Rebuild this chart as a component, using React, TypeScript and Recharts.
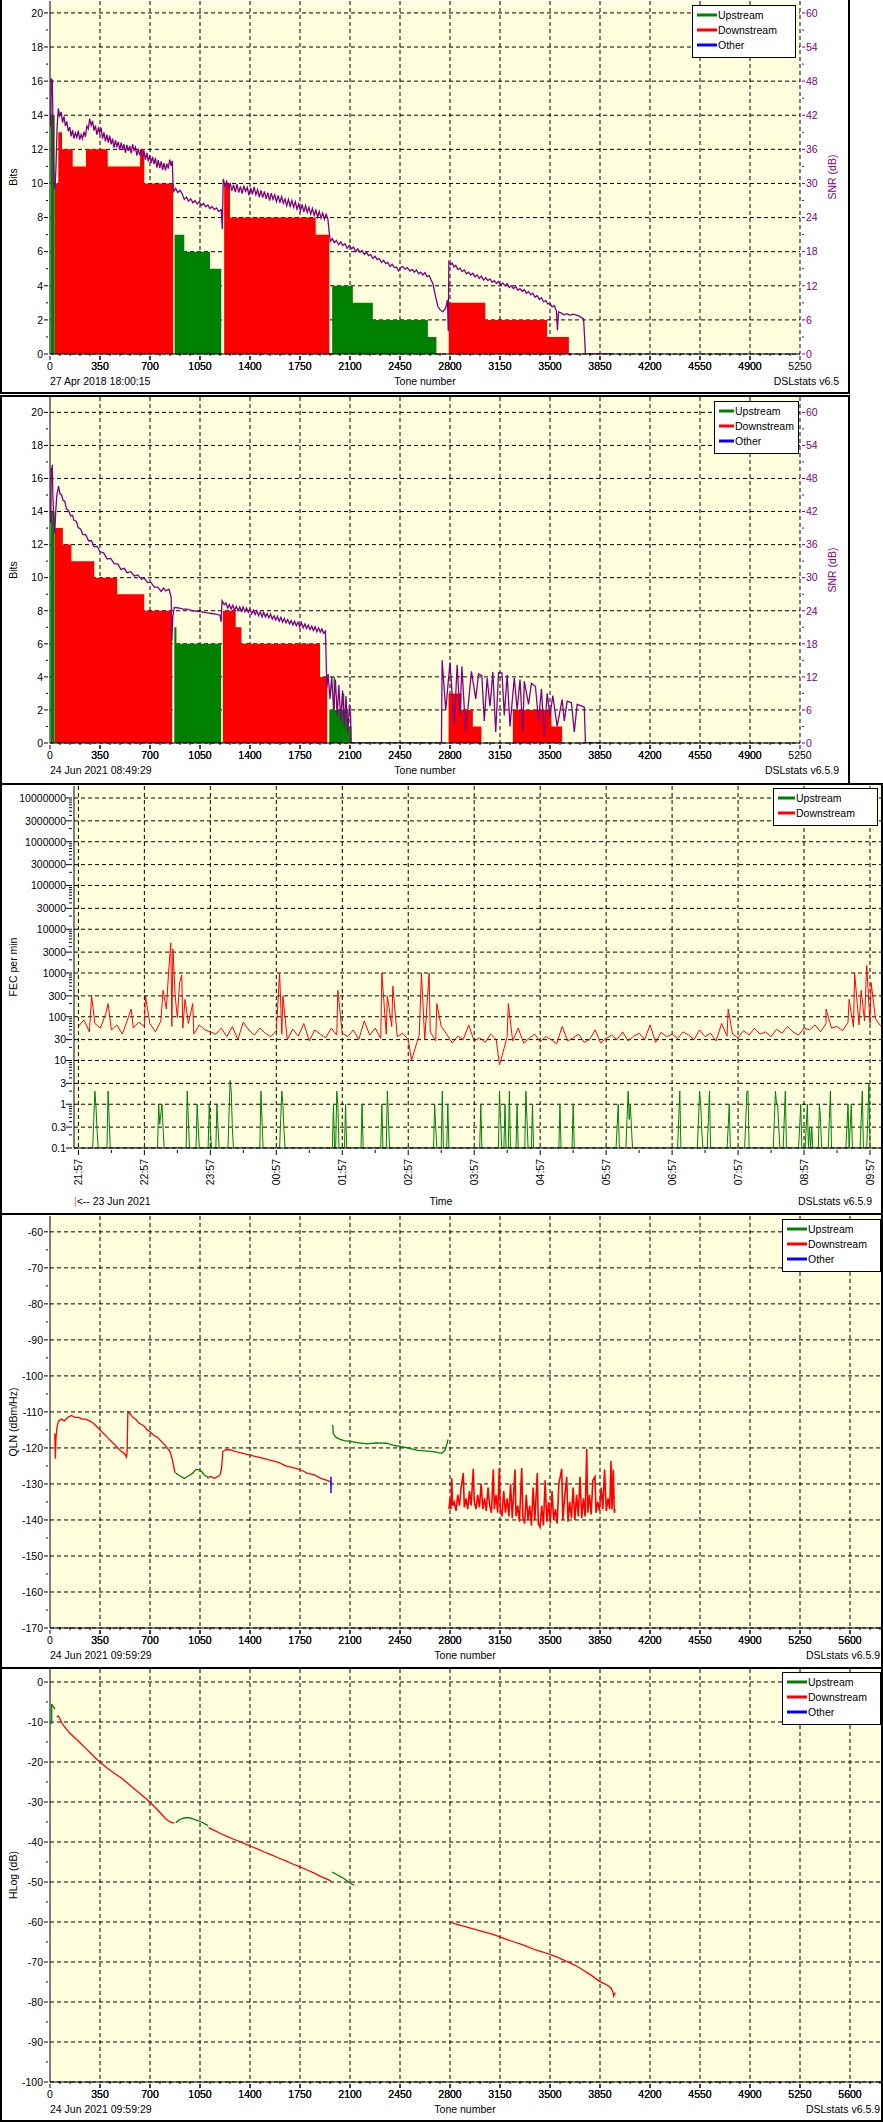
import React from 'react';
import { ComposedChart, Area, Line, XAxis, YAxis, CartesianGrid } from 'recharts';

const FONT = '"Liberation Sans", Arial, sans-serif';
const FS = 10.5;
const GREEN = '#008000';
const RED = '#ff0000';
const BLUE = '#0000ff';
const PURPLE = '#800080';
const PLOT_BG = '#fffedd';

// ---- tick labels ----
const toneLabels1 = [0, 350, 700, 1050, 1400, 1750, 2100, 2450, 2800, 3150, 3500, 3850, 4200, 4550, 4900, 5250];
const toneLabels2 = [0, 350, 700, 1050, 1400, 1750, 2100, 2450, 2800, 3150, 3500, 3850, 4200, 4550, 4900, 5250, 5600];
const bitLabels = [0, 2, 4, 6, 8, 10, 12, 14, 16, 18, 20];
const snrLabels = [0, 6, 12, 18, 24, 30, 36, 42, 48, 54, 60];
const fecLabels = [0.1, 0.3, 1, 3, 10, 30, 100, 300, 1000, 3000, 10000, 30000, 100000, 300000, 1000000, 3000000, 10000000];
const timeMinutes = [0, 60, 120, 180, 240, 300, 360, 420, 480, 540, 600, 660, 720];
const timeLabels = ['21:57', '22:57', '23:57', '00:57', '01:57', '02:57', '03:57', '04:57', '05:57', '06:57', '07:57', '08:57', '09:57'];
const qlnLabels = [-60, -70, -80, -90, -100, -110, -120, -130, -140, -150, -160, -170];
const hlogLabels = [0, -10, -20, -30, -40, -50, -60, -70, -80, -90, -100];

// ---- bit loading (band: [start tone, bits] steps, band end tone) ----
const bits1Green: [number[][], number][] = [
  [[[6, 14]], 33],
  [[[872, 7], [940, 6], [1120, 5]], 1199],
  [[[1975, 4], [2120, 3], [2260, 2], [2645, 1]], 2705],
];
const bits1Red: [number[][], number][] = [
  [[[33, 10], [58, 13], [84, 12], [159, 11], [252, 12], [404, 11], [630, 12], [660, 10]], 862],
  [[[1219, 10], [1260, 8], [1860, 7]], 1955],
  [[[2791, 3], [3047, 2], [3480, 1]], 3632],
];
const bits2Green: [number[][], number][] = [
  [[[6, 14]], 32],
  [[[870, 7], [885, 6]], 1198],
  [[[1955, 2], [1985, 4], [1995, 2], [2050, 3], [2060, 2], [2085, 1]], 2110],
];
const bits2Red: [number[][], number][] = [
  [[[33, 13], [90, 12], [150, 11], [310, 10], [470, 9], [660, 8]], 855],
  [[[1210, 8], [1300, 7], [1340, 6], [1890, 4]], 1940],
  [[[2790, 3], [2880, 2], [2960, 1], [3020, 0], [3240, 2], [3510, 1]], 3585],
];

// ---- SNR per tone (dB) ----
const snr1 = [
  [6, 40], [9, 48.5], [13, 47], [16, 48.3], [19, 44], [22, 36], [28, 30], [35, 29], [42, 33], [50, 40],
  [58, 43.2], [68, 41.9], [78, 42.6], [88, 40.7], [98, 41.8], [108, 40.1], [118, 40.9], [128, 39.2], [138, 39.9], [148, 38.3], [158, 39.4], [168, 37.9], [178, 38.9], [188, 38.1], [198, 39.3], [208, 37.7], [218, 38.6], [228, 37.9], [238, 39.1], [248, 38.2], [258, 40.1], [268, 39.6], [278, 41.4], [288, 40.2], [298, 41], [308, 39.3], [318, 40.2], [328, 38.6], [338, 39.7], [348, 38.9], [358, 39.8], [368, 37.9], [378, 39], [388, 37.4], [398, 38.6], [408, 37.2], [418, 38.4], [428, 36.9], [438, 37.9], [448, 36.3], [458, 37.6], [468, 36.5], [478, 37.3], [488, 35.9], [498, 37.2], [508, 36], [518, 36.9], [528, 35.4], [538, 36.8], [548, 35.7], [558, 36.6], [568, 35.3], [578, 36.9], [588, 35.8], [598, 36.4], [608, 34.9], [618, 36.1], [628, 35], [638, 35.9], [648, 34.6], [658, 35.7], [668, 34.2], [678, 35.4], [688, 33.9], [698, 35], [708, 33.6], [718, 34.7], [728, 33.4], [738, 34.5], [748, 32.8], [758, 34.1], [768, 32.7], [778, 33.9], [788, 32.4], [798, 33.6], [808, 32.3], [818, 33.5], [828, 32.6], [838, 34.2], [848, 33.1], [856, 34], [861, 30], [866, 28.6],
  [880, 29.1], [895, 28.4], [910, 28.8], [925, 28.2], [940, 27.2], [955, 27.6], [970, 26.9], [985, 27.3], [1000, 26.6], [1015, 27], [1030, 26.4], [1045, 26.8], [1060, 26.1], [1075, 26.5], [1090, 25.9], [1105, 26.2], [1120, 25.6], [1135, 25.9], [1150, 25.4], [1165, 25.7], [1180, 25.1], [1199, 25.4], [1206, 22],
  [1213, 30.8], [1225, 29.6], [1237, 30.4], [1249, 29], [1261, 30.1], [1273, 28.7], [1285, 29.8], [1297, 28.5], [1309, 29.9], [1321, 28.4], [1333, 29.5], [1345, 28.2], [1357, 29.6], [1369, 28.6], [1381, 29.3], [1393, 27.9], [1405, 29.2], [1417, 28.1], [1429, 29.4], [1441, 28], [1453, 28.9], [1465, 27.6], [1477, 28.8], [1489, 27.5], [1501, 28.6], [1513, 27.3], [1525, 28.4], [1537, 27], [1549, 28.3], [1561, 27.2], [1573, 28], [1585, 26.8], [1597, 27.9], [1609, 26.6], [1621, 27.7], [1633, 26.5], [1645, 27.3], [1657, 26.1], [1669, 27.2], [1681, 26], [1693, 27], [1705, 25.8], [1717, 26.8], [1729, 25.5], [1741, 26.4], [1753, 25.2], [1765, 26.3], [1777, 25], [1789, 26.1], [1801, 24.9], [1813, 25.8], [1825, 24.6], [1837, 25.6], [1849, 24.4], [1861, 25.3], [1873, 24.1], [1885, 25.1], [1897, 23.9], [1909, 24.8], [1921, 23.7], [1933, 24.6], [1945, 23.8], [1952, 22],
  [1962, 19.8], [1976, 20.3], [1990, 19.6], [2005, 20], [2020, 19.2], [2035, 19.7], [2050, 19.1], [2065, 19.4], [2080, 18.6], [2095, 19.1], [2110, 18.5], [2125, 18.8], [2140, 18], [2155, 18.5], [2170, 17.9], [2185, 18.2], [2200, 17.5], [2215, 17.9], [2230, 17.3], [2245, 17.5], [2260, 16.8], [2275, 17.2], [2290, 16.6], [2305, 16.8], [2320, 16.1], [2335, 16.5], [2350, 15.9], [2365, 16.1], [2380, 15.4], [2395, 15.8], [2410, 15.2], [2425, 15.3], [2440, 14.6], [2455, 15.2], [2470, 15.4], [2485, 14.9], [2500, 15.2], [2520, 14.6], [2535, 14.9], [2550, 14.4], [2565, 14.8], [2580, 14.1], [2595, 14.4], [2610, 13.9], [2625, 14.3], [2640, 13.6], [2655, 13.8], [2668, 13], [2680, 12.4], [2690, 11.2], [2700, 10], [2715, 8.4], [2730, 7.8], [2750, 7.4], [2770, 8.1], [2782, 9.5], [2788, 4],
  [2792, 16.2], [2805, 15.7], [2815, 16], [2828, 15.3], [2840, 15.6], [2855, 14.9], [2870, 15.1], [2885, 14.5], [2900, 14.8], [2915, 14.1], [2930, 14.4], [2945, 13.9], [2960, 14.2], [2975, 13.6], [2990, 13.9], [3005, 13.3], [3020, 13.7], [3035, 13], [3050, 13.4], [3065, 12.9], [3080, 13.2], [3095, 12.6], [3110, 12.9], [3125, 12.4], [3140, 12.8], [3155, 12.1], [3170, 12.5], [3185, 12], [3200, 12.4], [3215, 11.7], [3230, 12], [3245, 11.5], [3260, 11.9], [3275, 11.2], [3290, 11.5], [3305, 11], [3320, 11.3], [3335, 10.7], [3350, 11], [3365, 10.4], [3380, 10.7], [3395, 10], [3410, 10.3], [3425, 9.6], [3440, 9.9], [3455, 9.2], [3470, 9.4], [3485, 8.8], [3500, 8.9], [3515, 8.3], [3530, 8.5], [3545, 7.6], [3552, 4.2], [3560, 7.4], [3580, 7.2], [3600, 6.9], [3620, 7.1], [3640, 6.8], [3660, 7], [3680, 6.9], [3700, 6.7], [3720, 6.4], [3735, 6.2], [3742, 3], [3748, 0], [3940, 0],
];
const snr2 = [
  [6, 40], [9, 50], [13, 49], [16, 50.5], [20, 45], [26, 41], [33, 38], [40, 42], [48, 45], [60, 46.6], [70, 45.2], [80, 45.1], [92, 44], [103, 43.9], [115, 42.5], [130, 42.2], [145, 41.2], [158, 41.3], [168, 40.4], [185, 40.2], [197, 39.1], [215, 38.8], [230, 37.8], [250, 37.8], [270, 36.7], [290, 36.7], [309, 35.6], [330, 35.7], [350, 34.7], [375, 34.5], [400, 33.4], [425, 33.5], [450, 32.5], [475, 32.5], [496, 31.5], [520, 31.7], [540, 30.9], [565, 31.1], [590, 30.3], [615, 30.5], [640, 29.7], [660, 29.9], [683, 29.1], [705, 29.2], [730, 28.3], [755, 28.3], [777, 27.5], [795, 28.1], [810, 27.6], [833, 27.9], [848, 26.5], [853, 18.6], [860, 23],
  [870, 24.6], [900, 24.5], [930, 24.3], [960, 24.3], [1000, 24], [1030, 23.9], [1060, 23.8], [1100, 23.6], [1130, 23.5], [1160, 23.4], [1190, 23.2], [1198, 22],
  [1204, 25.8], [1220, 25.1], [1232, 25.4], [1244, 24.5], [1256, 25.1], [1268, 24.3], [1280, 25], [1292, 24.1], [1304, 24.8], [1316, 24], [1328, 24.7], [1340, 23.9], [1352, 24.7], [1364, 23.8], [1376, 24.5], [1388, 23.7], [1400, 24.3], [1412, 23.4], [1424, 24.1], [1436, 23.3], [1448, 24], [1460, 23.1], [1472, 23.8], [1484, 22.9], [1496, 23.7], [1508, 22.9], [1520, 23.5], [1532, 22.7], [1544, 23.4], [1556, 22.5], [1568, 23.1], [1580, 22.3], [1592, 23], [1604, 22.1], [1616, 22.8], [1628, 21.9], [1640, 22.6], [1652, 21.8], [1664, 22.4], [1676, 21.6], [1688, 22.2], [1700, 21.4], [1712, 22.1], [1724, 21.3], [1736, 21.9], [1748, 21.1], [1760, 21.8], [1772, 20.9], [1784, 21.6], [1796, 20.8], [1808, 21.4], [1820, 20.6], [1832, 21.2], [1844, 20.4], [1856, 21.1], [1868, 20.2], [1880, 20.9], [1892, 20.1], [1904, 20.7], [1916, 19.9], [1928, 20.3],
  [1938, 10], [1947, 12.5], [1960, 8], [1972, 12], [1985, 6], [1998, 11.5], [2010, 5], [2022, 10.5], [2035, 4], [2048, 9.5], [2060, 3], [2072, 8.5], [2085, 2], [2096, 7], [2104, 5], [2108, 0], [2740, 0],
  [2745, 15], [2770, 6], [2800, 14.6], [2830, 3], [2850, 14.2], [2870, 5], [2883, 13.9], [2910, 2], [2950, 13], [2980, 8], [3000, 12.5], [3023, 12.2], [3040, 4], [3060, 11.8], [3080, 6.7], [3100, 12.9], [3120, 2], [3140, 12.8], [3164, 12.7], [3180, 5], [3200, 12.4], [3220, 3], [3250, 11.8], [3270, 6], [3290, 11.5], [3310, 2], [3320, 11.2], [3350, 7], [3370, 10.8], [3398, 10.3], [3420, 4], [3440, 9.8], [3460, 1], [3480, 9], [3500, 5], [3520, 8.6], [3550, 3], [3585, 7.9], [3600, 4], [3620, 7.6], [3650, 7.3], [3670, 2], [3690, 7], [3725, 6.7], [3740, 6.5], [3748, 0], [3860, 0],
];

// ---- FEC per minute (minutes after 21:57) ----
const fecDsEvery5 = [
  60, 85, 45, 70, 55, 120, 50, 65, 40, 90, 55, 75, 60,
  70, 45, 80, 150, 60, 95, 55, 70, 40, 65, 50, 45,
  40, 55, 35, 60, 30, 75, 50, 38, 55, 42, 35, 48,
  40, 30, 52, 36, 70, 28, 50, 40, 33, 55, 38, 42,
  35, 50, 30, 80, 38, 55, 32, 40, 60, 35, 42, 30,
  15, 38, 30, 45, 28, 60, 40, 25, 36, 30, 65, 28,
  33, 26, 40, 30, 12, 35, 28, 55, 25, 32, 40, 27,
  35, 30, 24, 60, 28, 33, 40, 26, 30, 50, 25, 32,
  38, 30, 45, 28, 36, 42, 30, 65, 26, 44, 35, 40,
  32, 45, 38, 30, 50, 35, 42, 28, 70, 36, 40, 33,
  48, 38, 55, 40, 45, 35, 52, 42, 60, 45, 38, 55,
  50, 65, 45, 70, 55, 60, 48, 75, 58, 65, 80, 70,
  90, 60,
];
const fecDsPeaks = [
  [12, 300], [27, 200], [48, 150], [61, 300], [77, 400], [82, 1000], [84, 4900], [86, 3500], [88, 300], [92, 600], [94, 900], [97, 250], [104, 200],
  [183, 1000], [186, 300], [236, 400], [276, 1000], [281, 300], [286, 500], [303, 10], [312, 1000], [319, 1000], [326, 200], [383, 8], [391, 200],
  [591, 150], [680, 150], [701, 250], [706, 1000], [712, 400], [717, 1500], [721, 600],
];
const fecUsEvents = [
  [14, 0.45], [15, 2], [16, 0.87], [17, 0.25], [27, 2], [28, 0.45],
  [73, 1], [74, 0.35], [75, 0.6], [76, 1], [77, 0.3], [99, 2], [100, 0.45], [108, 1], [109, 0.3], [119, 1], [120, 0.3], [126, 1], [127, 0.3],
  [137, 0.6], [138, 3.5], [139, 2], [140, 0.3], [166, 2], [167, 0.45], [184, 0.45], [185, 2], [186, 1], [187, 0.25],
  [232, 1], [235, 2], [236, 1], [243, 1], [258, 1], [276, 1], [281, 2], [282, 0.45], [324, 1], [325, 0.3], [331, 2], [336, 1], [366, 1],
  [383, 2], [384, 0.45], [388, 1], [392, 2], [399, 1], [407, 2], [408, 0.45], [413, 1], [438, 1], [450, 1],
  [490, 0.3], [491, 1], [499, 0.45], [500, 2], [501, 0.45], [502, 1], [503, 0.3], [546, 0.45], [547, 2],
  [564, 0.45], [565, 2], [566, 1], [567, 0.25], [573, 0.45], [574, 2], [591, 0.3], [592, 1], [607, 0.45], [608, 2], [609, 2],
  [633, 0.45], [634, 2], [635, 1], [636, 1], [637, 0.3], [642, 0.45], [643, 2], [656, 0.3], [657, 1], [662, 0.3], [663, 1],
  [665, 0.3], [667, 0.3], [674, 1], [675, 0.45], [683, 0.45], [684, 2], [699, 0.3], [700, 1], [702, 0.3], [703, 1],
  [712, 0.45], [713, 2], [718, 0.45], [719, 3],
];
const FEC_FLOOR = 0.1; // zero-count minutes sit on the axis floor

// ---- QLN (dBm/Hz) ----
const qlnDsA = [[33, -116], [38, -123], [42, -117], [50, -114], [60, -112.5], [80, -112], [100, -112.5], [125, -111.5], [150, -111], [175, -111.5], [200, -111.5], [225, -112], [250, -112], [275, -112.5], [300, -113], [325, -114], [350, -115], [375, -116], [400, -117], [425, -118], [450, -119], [475, -120], [500, -121], [520, -121.5], [535, -122.5], [540, -121], [545, -110], [560, -110.5], [580, -111.5], [600, -112], [620, -113], [640, -113.5], [660, -114], [680, -115], [700, -115.5], [725, -116.5], [750, -117], [775, -118], [800, -119], [820, -120], [840, -121], [855, -123], [865, -125], [875, -127]];
const qlnUsB = [[880, -127], [900, -127.5], [920, -128], [940, -128.5], [960, -128], [980, -127.5], [1000, -127], [1020, -126], [1040, -126], [1060, -126.5], [1080, -127.5], [1100, -128], [1110, -128.5]];
const qlnDsC = [[1110, -128], [1130, -128], [1150, -128.5], [1170, -128], [1190, -127.5], [1200, -126], [1210, -121], [1230, -120.5], [1260, -120.5], [1300, -121], [1350, -121.5], [1400, -122], [1450, -122.5], [1500, -123], [1550, -123.5], [1600, -124], [1650, -125], [1700, -125.5], [1750, -126], [1800, -127], [1850, -127.5], [1900, -128.5], [1940, -129], [1967, -129.5]];
const qlnUsD = [[1979, -113.6], [1983, -116], [2000, -117], [2030, -117.6], [2060, -118], [2100, -118.2], [2150, -118.5], [2217, -118.9], [2280, -118.6], [2357, -118.7], [2400, -119.2], [2450, -119.6], [2500, -120], [2567, -120.6], [2620, -120.8], [2683, -121], [2742, -121.5], [2765, -120.6], [2778, -119], [2786, -117.6]];
const qlnDsE = [[2793, -137], [2800, -134], [2806, -137], [2812, -128.4], [2818, -136], [2830, -135], [2842, -137.5], [2854, -133], [2866, -136], [2878, -131], [2893, -127], [2900, -136.5], [2912, -134], [2924, -137], [2936, -132], [2948, -136], [2963, -125.8], [2970, -135], [2982, -137], [2994, -133], [3006, -136.5], [3018, -130], [3030, -137], [3042, -134], [3054, -137.5], [3066, -131], [3078, -136], [3090, -138], [3103, -126], [3110, -137], [3122, -133], [3134, -138], [3145, -125.6], [3152, -137], [3164, -139], [3176, -132], [3188, -138], [3200, -134], [3212, -139], [3224, -130], [3236, -139.5], [3255, -126], [3262, -139], [3274, -136], [3286, -140.5], [3302, -125.6], [3310, -139], [3322, -141], [3334, -133], [3346, -140], [3358, -136], [3370, -141.5], [3382, -131], [3394, -140], [3411, -127], [3418, -141], [3430, -142], [3442, -136], [3454, -141.5], [3466, -129], [3478, -140.5], [3490, -135], [3502, -141], [3514, -132], [3526, -140], [3538, -137], [3550, -141], [3562, -130], [3582, -125.8], [3590, -140], [3602, -134], [3617, -128], [3626, -140.5], [3638, -135], [3650, -139.5], [3662, -131], [3674, -140], [3686, -133], [3698, -139], [3710, -128], [3722, -139.5], [3734, -134], [3746, -139], [3757, -120.3], [3764, -138], [3776, -133], [3788, -138.5], [3800, -129], [3815, -128], [3822, -138], [3834, -135], [3846, -137.5], [3858, -131], [3870, -137], [3882, -126], [3894, -137.5], [3906, -134], [3918, -137], [3927, -123.6], [3934, -137], [3943, -126], [3950, -138], [3955, -137]];
const qlnOther = [[1967, -128], [1967, -132.5]];

// ---- Hlog (dB) ----
const hlogUsA = [[12, -10.5], [12, -5.5], [18, -6], [26, -6.3], [35, -6.8]];
const hlogDsB = [[47, -8.7], [58, -8.5], [65, -8.9], [80, -10], [93, -10.8], [115, -11.8], [140, -12.8], [175, -14], [210, -15.2], [250, -16.6], [290, -18], [327, -19.3], [365, -20.5], [400, -21.5], [450, -22.8], [500, -24], [550, -25.5], [600, -27], [650, -28.5], [700, -30], [740, -31.5], [780, -33], [810, -34.2], [840, -35], [870, -35.3]];
const hlogUsC = [[880, -35.2], [900, -34.6], [920, -34.2], [940, -34], [960, -33.9], [980, -34], [1000, -34.2], [1030, -34.6], [1060, -35], [1090, -35.6], [1105, -35.9]];
const hlogDsD = [[1110, -36.4], [1150, -37.1], [1200, -38], [1250, -38.8], [1300, -39.5], [1350, -40.2], [1400, -41], [1450, -41.7], [1500, -42.5], [1550, -43.2], [1600, -44], [1650, -44.7], [1700, -45.5], [1750, -46.2], [1800, -47], [1850, -47.8], [1900, -48.7], [1940, -49.3], [1967, -49.8]];
const hlogUsE = [[1975, -47.5], [2000, -48], [2030, -48.6], [2060, -49.2], [2090, -50], [2110, -50.5], [2130, -50.8]];
const hlogDsF = [[2793, -60], [2850, -60.6], [2900, -61.1], [2950, -61.6], [3000, -62.1], [3050, -62.6], [3100, -63.1], [3150, -63.7], [3200, -64.4], [3250, -65], [3300, -65.6], [3350, -66.3], [3400, -67], [3450, -67.5], [3500, -68.1], [3550, -68.8], [3600, -69.6], [3650, -70.4], [3700, -71.3], [3731, -72], [3770, -72.9], [3800, -73.6], [3848, -74.9], [3880, -75.4], [3910, -76], [3929, -76.6], [3940, -77.5], [3946, -78.5], [3952, -78], [3957, -77.6]];

// ---- helpers ----
const steps = (a: number, b: number, s: number) => {
  const out: number[] = [];
  for (let v = a; v <= b + 1e-9; v += s) out.push(Math.round(v * 1000) / 1000);
  return out;
};
const pts = (arr: number[][]) => arr.map(([tone, v]) => ({ tone, v }));
const bandPts = (bands: [number[][], number][]) => {
  const out: { tone: number; v: number }[] = [];
  bands.forEach(([band, end]) => {
    out.push({ tone: band[0][0], v: 0 });
    band.forEach(([t, b], i) => {
      const next = i + 1 < band.length ? band[i + 1][0] : end;
      out.push({ tone: t, v: b }, { tone: next, v: b });
    });
    out.push({ tone: end, v: 0 });
  });
  return out;
};
const logTicks: number[] = [];
for (let k = -1; k <= 7; k++) {
  for (let m = 1; m <= 9; m++) {
    const v = Number((m * Math.pow(10, k)).toPrecision(2));
    if (v <= 1e7) logTicks.push(v);
  }
}
const has = (list: number[], v: number) => list.some((m) => Math.abs(m - v) <= Math.abs(m) * 1e-6 + 1e-9);

const fecDsData = [
  ...fecDsEvery5.map((v, i) => ({ m: i * 5, v })),
  ...fecDsPeaks.map(([m, v]) => ({ m, v })),
].sort((a, b) => a.m - b.m);
const fecUsData: { m: number; v: number }[] = [];
fecUsEvents.forEach(([m, v], i) => {
  const prev = fecUsEvents[i - 1];
  const next = fecUsEvents[i + 1];
  if (!prev || prev[0] !== m - 1) fecUsData.push({ m: m - 1, v: FEC_FLOOR });
  fecUsData.push({ m, v });
  if (!next || next[0] !== m + 1) fecUsData.push({ m: m + 1, v: FEC_FLOOR });
});

// ---- ticks ----
const txt = { fontFamily: FONT, fontSize: FS };

const leftTick = (labels: number[], majorLen: number, minorLen: number, gap: number) => (p: any) => {
  const v = p.payload.value;
  const major = has(labels, v);
  return (
    <g>
      <line x1={p.x - (major ? majorLen : minorLen)} x2={p.x} y1={p.y} y2={p.y} stroke="#000" />
      {major && (
        <text x={p.x - gap} y={p.y} dy="0.36em" textAnchor="end" fill="#000" {...txt}>{String(v)}</text>
      )}
    </g>
  );
};
const rightTick = (labels: number[], color: string) => (p: any) => {
  const v = p.payload.value;
  const major = has(labels, v);
  return (
    <g>
      <line x1={p.x} x2={p.x + (major ? 3 : 2)} y1={p.y} y2={p.y} stroke={color} />
      {major && (
        <text x={p.x + 4} y={p.y} dy="0.36em" textAnchor="start" fill={color} {...txt}>{v}</text>
      )}
    </g>
  );
};
const toneTick = (labels: number[]) => (p: any) => {
  const v = p.payload.value;
  const major = has(labels, v);
  if (!major) return <line x1={p.x} x2={p.x} y1={p.y - 3} y2={p.y} stroke="#000" />;
  return (
    <g>
      <line x1={p.x} x2={p.x} y1={p.y} y2={p.y + 4} stroke="#000" />
      <text x={p.x} y={p.y + 14} textAnchor="middle" fill="#000" {...txt}>{v}</text>
    </g>
  );
};
const timeTick = (p: any) => {
  const v = p.payload.value;
  const i = timeMinutes.indexOf(v);
  if (i < 0) return <line x1={p.x} x2={p.x} y1={p.y} y2={p.y + 3} stroke="#000" />;
  const ty = p.y + 9;
  return (
    <g>
      <line x1={p.x} x2={p.x} y1={p.y} y2={p.y + 5} stroke="#000" />
      <text x={p.x} y={ty} dy="0.36em" textAnchor="end" transform={`rotate(-90 ${p.x} ${ty})`} fill="#000" {...txt}>{timeLabels[i]}</text>
    </g>
  );
};

const axisBase = { tickSize: 0, tickLine: false, interval: 0 as const, allowDataOverflow: true, axisLine: { stroke: '#000' } };
const gridBase = { fill: PLOT_BG, fillOpacity: 1, stroke: '#000', strokeDasharray: '4 3' };
const lineBase = { type: 'linear' as const, dot: false, activeDot: false, isAnimationActive: false };

function BitsChart({ red, green, snr, height, axisH, bitsMax }: any) {
  return (
    <ComposedChart width={849} height={height} margin={{ top: 0, right: 0, bottom: 0, left: 0 }}>
      <CartesianGrid yAxisId="bits" {...gridBase} horizontalValues={bitLabels} verticalValues={toneLabels1.slice(1)} />
      <XAxis type="number" dataKey="tone" domain={[0, 5250]} ticks={[...toneLabels1, ...steps(70, 5180, 70)]} height={axisH} {...axisBase} tick={toneTick(toneLabels1)} />
      <YAxis yAxisId="bits" type="number" domain={[0, bitsMax]} ticks={steps(0, 20, 1)} width={50} {...axisBase} tick={leftTick(bitLabels, 4, 2, 5)} />
      <YAxis yAxisId="snr" orientation="right" type="number" domain={[0, bitsMax * 3]} ticks={steps(0, 60, 3)} width={49} {...axisBase} axisLine={false} tick={rightTick(snrLabels, PURPLE)} />
      <Area yAxisId="bits" data={bandPts(red)} dataKey="v" stroke="none" fill={RED} fillOpacity={1} {...lineBase} />
      <Area yAxisId="bits" data={bandPts(green)} dataKey="v" stroke="none" fill={GREEN} fillOpacity={1} {...lineBase} />
      <Line yAxisId="snr" data={pts(snr)} dataKey="v" stroke={PURPLE} strokeWidth={1.3} {...lineBase} />
    </ComposedChart>
  );
}

function Legend({ x, y, w, sample, items }: { x: number; y: number; w: number; sample: number; items: [string, string][] }) {
  return (
    <g>
      <rect x={x + 0.5} y={y + 0.5} width={w} height={15 * items.length + 7} fill="#fff" stroke="#000" />
      {items.map(([name, color], i) => (
        <g key={name}>
          <line x1={x + 5} x2={x + 5 + sample} y1={y + 10 + 15 * i} y2={y + 10 + 15 * i} stroke={color} strokeWidth={3} />
          <text x={x + 6 + sample} y={y + 10 + 15 * i} dy="0.36em" fill="#000" {...txt}>{name}</text>
        </g>
      ))}
    </g>
  );
}

const LEG3: [string, string][] = [['Upstream', GREEN], ['Downstream', RED], ['Other', BLUE]];
const LEG2: [string, string][] = [['Upstream', GREEN], ['Downstream', RED]];

function VLabel({ x, y, children, color = '#000' }: any) {
  return (
    <text x={x} y={y} dy="0.36em" textAnchor="middle" transform={`rotate(-90 ${x} ${y})`} fill={color} {...txt}>{children}</text>
  );
}
function T({ x, y, anchor = 'start', children }: any) {
  return <text x={x} y={y} dy="0.36em" textAnchor={anchor} fill="#000" {...txt}>{children}</text>;
}

export default function App() {
  return (
    <div style={{ position: 'absolute', left: 0, top: 0, width: 883, height: 2122, background: '#fff', overflow: 'hidden' }}>
      {/* bit loading + SNR, 2018 */}
      <div style={{ position: 'absolute', left: 0, top: 1 }}>
        <BitsChart red={bits1Red} green={bits1Green} snr={snr1} height={392} axisH={39} bitsMax={20.7} />
      </div>
      {/* bit loading + SNR, 2021 */}
      <div style={{ position: 'absolute', left: 0, top: 397 }}>
        <BitsChart red={bits2Red} green={bits2Green} snr={snr2} height={386} axisH={40} bitsMax={20.93} />
      </div>

      {/* FEC per minute */}
      <div style={{ position: 'absolute', left: 0, top: 786 }}>
        <ComposedChart width={883} height={428} margin={{ top: 0, right: 2, bottom: 0, left: 0 }}>
          <CartesianGrid {...gridBase} horizontalValues={fecLabels} verticalValues={timeMinutes} />
          <XAxis type="number" dataKey="m" domain={[-4, 730]} ticks={[...timeMinutes, ...steps(30, 690, 60)]} height={66} {...axisBase} tick={timeTick} />
          <YAxis type="number" scale="log" domain={[0.1, 1.88e7]} ticks={logTicks} width={74} {...axisBase} tick={leftTick(fecLabels, 6, 3, 6)} />
          <Line data={fecDsData} dataKey="v" stroke={RED} strokeWidth={1} {...lineBase} />
          <Line data={fecUsData} dataKey="v" stroke={GREEN} strokeWidth={1} {...lineBase} />
        </ComposedChart>
      </div>

      {/* QLN */}
      <div style={{ position: 'absolute', left: 0, top: 1216 }}>
        <ComposedChart width={883} height={452} margin={{ top: 0, right: 2, bottom: 0, left: 0 }}>
          <CartesianGrid {...gridBase} horizontalValues={qlnLabels} verticalValues={toneLabels2.slice(1)} />
          <XAxis type="number" dataKey="tone" domain={[0, 5817]} ticks={[...toneLabels2, ...steps(70, 5810, 70)]} height={40} {...axisBase} tick={toneTick(toneLabels2)} />
          <YAxis type="number" domain={[-170, -55.6]} ticks={steps(-170, -60, 5)} width={50} {...axisBase} tick={leftTick(qlnLabels, 4, 2, 5)} />
          <Line data={pts(qlnDsA)} dataKey="v" stroke={RED} strokeWidth={1.3} {...lineBase} />
          <Line data={pts(qlnUsB)} dataKey="v" stroke={GREEN} strokeWidth={1.3} {...lineBase} />
          <Line data={pts(qlnDsC)} dataKey="v" stroke={RED} strokeWidth={1.3} {...lineBase} />
          <Line data={pts(qlnUsD)} dataKey="v" stroke={GREEN} strokeWidth={1.3} {...lineBase} />
          <Line data={pts(qlnDsE)} dataKey="v" stroke={RED} strokeWidth={1.6} {...lineBase} />
          <Line data={pts(qlnOther)} dataKey="v" stroke={BLUE} strokeWidth={1.5} {...lineBase} />
        </ComposedChart>
      </div>

      {/* Hlog */}
      <div style={{ position: 'absolute', left: 0, top: 1669 }}>
        <ComposedChart width={883} height={452} margin={{ top: 0, right: 2, bottom: 0, left: 0 }}>
          <CartesianGrid {...gridBase} horizontalValues={hlogLabels} verticalValues={toneLabels2.slice(1)} />
          <XAxis type="number" dataKey="tone" domain={[0, 5817]} ticks={[...toneLabels2, ...steps(70, 5810, 70)]} height={39} {...axisBase} tick={toneTick(toneLabels2)} />
          <YAxis type="number" domain={[-100, 3.25]} ticks={steps(-100, 0, 5)} width={50} {...axisBase} tick={leftTick(hlogLabels, 4, 2, 5)} />
          <Line data={pts(hlogUsA)} dataKey="v" stroke={GREEN} strokeWidth={1.3} {...lineBase} />
          <Line data={pts(hlogDsB)} dataKey="v" stroke={RED} strokeWidth={1.3} {...lineBase} />
          <Line data={pts(hlogUsC)} dataKey="v" stroke={GREEN} strokeWidth={1.3} {...lineBase} />
          <Line data={pts(hlogDsD)} dataKey="v" stroke={RED} strokeWidth={1.3} {...lineBase} />
          <Line data={pts(hlogUsE)} dataKey="v" stroke={GREEN} strokeWidth={1.3} {...lineBase} />
          <Line data={pts(hlogDsF)} dataKey="v" stroke={RED} strokeWidth={1.3} {...lineBase} />
        </ComposedChart>
      </div>

      {/* frames, captions, legends */}
      <svg width={883} height={2122} style={{ position: 'absolute', left: 0, top: 0, pointerEvents: 'none' }}>
        <rect x={1} y={-1} width={848} height={394} fill="none" stroke="#000" strokeWidth={2} />
        <rect x={1} y={396} width={848} height={388} fill="none" stroke="#000" strokeWidth={2} />
        <rect x={1} y={784} width={881} height={430} fill="none" stroke="#000" strokeWidth={2} />
        <rect x={1} y={1214} width={881} height={454} fill="none" stroke="#000" strokeWidth={2} />
        <rect x={1} y={1668} width={881} height={453} fill="none" stroke="#000" strokeWidth={2} />

        <VLabel x={13} y={177}>Bits</VLabel>
        <VLabel x={832} y={177} color={PURPLE}>SNR (dB)</VLabel>
        <T x={50} y={381}>27 Apr 2018 18:00:15</T>
        <T x={425} y={381} anchor="middle">Tone number</T>
        <T x={839} y={381} anchor="end">DSLstats v6.5</T>
        <Legend x={692} y={5} w={103} sample={20} items={LEG3} />

        <VLabel x={13} y={570}>Bits</VLabel>
        <VLabel x={832} y={570} color={PURPLE}>SNR (dB)</VLabel>
        <T x={50} y={770}>24 Jun 2021 08:49:29</T>
        <T x={425} y={770} anchor="middle">Tone number</T>
        <T x={839} y={770} anchor="end">DSLstats v6.5.9</T>
        <Legend x={714} y={401} w={84} sample={15} items={LEG3} />

        <VLabel x={13} y={967}>FEC per min</VLabel>
        <text x={74} y={1201} dy="0.36em" fill="#000" {...txt}><tspan fill="#c8781e">|</tspan>{'<-- 23 Jun 2021'}</text>
        <T x={441} y={1201} anchor="middle">Time</T>
        <T x={872} y={1201} anchor="end">DSLstats v6.5.9</T>
        <Legend x={773} y={788} w={104} sample={17} items={LEG2} />

        <VLabel x={13} y={1422}>QLN (dBm/Hz)</VLabel>
        <T x={50} y={1655}>24 Jun 2021 09:59:29</T>
        <T x={465} y={1655} anchor="middle">Tone number</T>
        <T x={880} y={1655} anchor="end">DSLstats v6.5.9</T>
        <Legend x={782} y={1219} w={98} sample={20} items={LEG3} />

        <VLabel x={13} y={1875}>HLog (dB)</VLabel>
        <T x={50} y={2109}>24 Jun 2021 09:59:29</T>
        <T x={465} y={2109} anchor="middle">Tone number</T>
        <T x={880} y={2109} anchor="end">DSLstats v6.5.9</T>
        <Legend x={782} y={1672} w={98} sample={20} items={LEG3} />
      </svg>
    </div>
  );
}
